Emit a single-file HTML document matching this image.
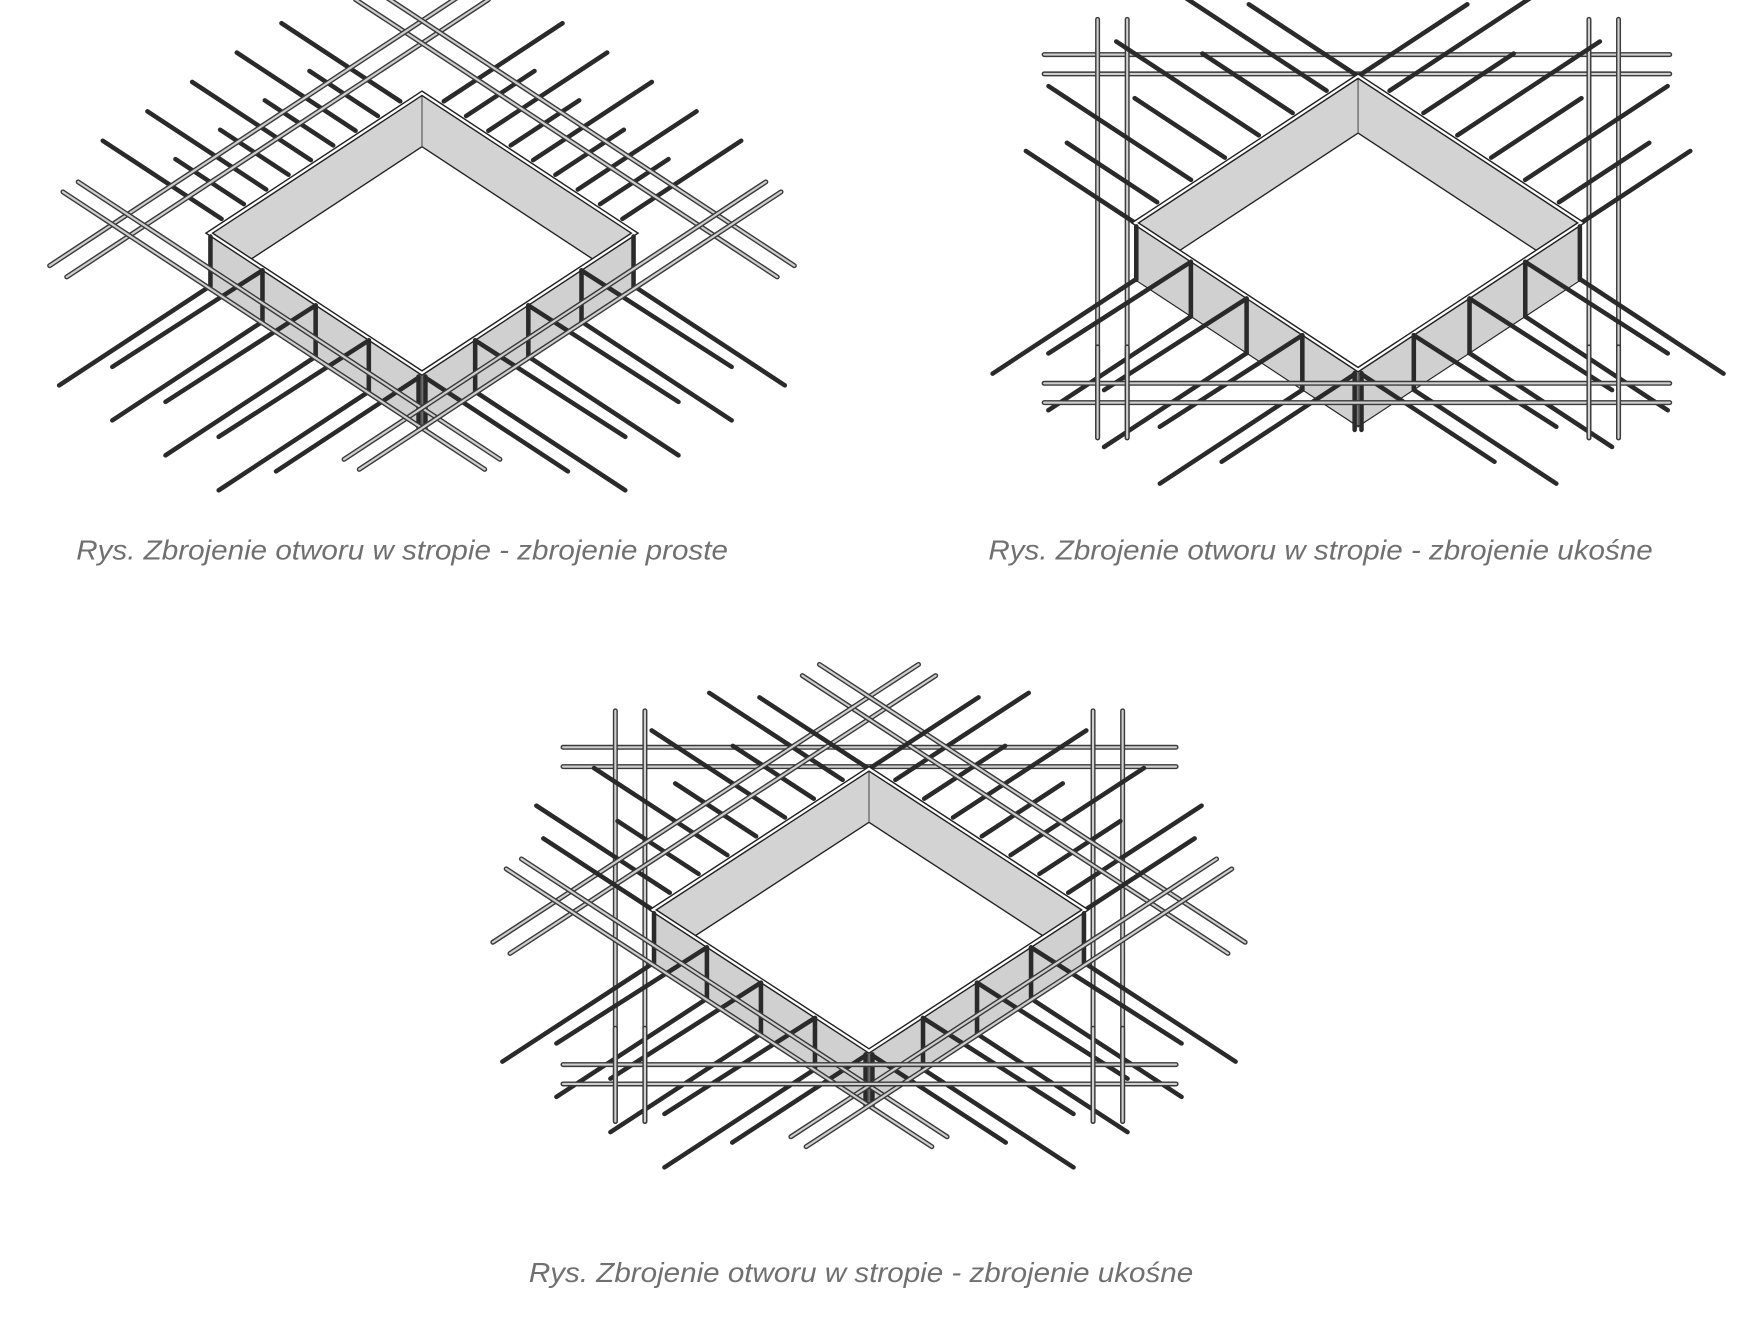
<!DOCTYPE html>
<html><head><meta charset="utf-8">
<style>
html,body{margin:0;padding:0;background:#fff;}
svg{display:block;}
text{font-family:"Liberation Sans",sans-serif;font-style:italic;fill:#707070;font-size:24px;}
</style></head>
<body>
<svg id="s" xmlns="http://www.w3.org/2000/svg" width="1763" height="1322" viewBox="0 0 1550 1162.3">
<rect width="1550" height="1162.3" fill="#fff"/>
<g id="g"></g>
<text x="67" y="492" textLength="573" lengthAdjust="spacingAndGlyphs">Rys. Zbrojenie otworu w stropie - zbrojenie proste</text>
<text x="869" y="492" textLength="584" lengthAdjust="spacingAndGlyphs">Rys. Zbrojenie otworu w stropie - zbrojenie ukośne</text>
<text x="465" y="1127" textLength="584" lengthAdjust="spacingAndGlyphs">Rys. Zbrojenie otworu w stropie - zbrojenie ukośne</text>
</svg>
<script>
var NS="http://www.w3.org/2000/svg";
var G=document.getElementById('g');
function el(n,a){var e=document.createElementNS(NS,n);for(var k in a)e.setAttribute(k,a[k]);G.appendChild(e);return e;}
function dark(x1,y1,x2,y2){el('line',{x1:x1,y1:y1,x2:x2,y2:y2,stroke:'#2a2a2a','stroke-width':4,'stroke-linecap':'round'});}
function light(x1,y1,x2,y2){el('line',{x1:x1,y1:y1,x2:x2,y2:y2,stroke:'#3a3a3a','stroke-width':4.4,'stroke-linecap':'round'});
 el('line',{x1:x1,y1:y1,x2:x2,y2:y2,stroke:'#cfcfcf','stroke-width':1.9,'stroke-linecap':'round'});}
function pts(a){return a.map(function(p){return p[0]+','+p[1];}).join(' ');}
function fig(tx,ty,a,b,d,o){
 var n=Math.sqrt(a*a+b*b), e1=[a/n,b/n], e2=[-a/n,b/n];
 var T=[tx,ty],L=[tx-a,ty+b],R=[tx+a,ty+b],B=[tx,ty+2*b];
 function add(p,v,k){return [p[0]+v[0]*k,p[1]+v[1]*k];}
 function lerp(p,q,s){return [p[0]+(q[0]-p[0])*s,p[1]+(q[1]-p[1])*s];}
 if(o.grid){
  var g=o.grid;
  light(L[0]-g.hx1,T[1]-19,R[0]+g.hx2,T[1]-19);
  light(L[0]-g.hx1,T[1]-2,R[0]+g.hx2,T[1]-2);
  [L[0]-33,L[0]-7,R[0]+7,R[0]+33].forEach(function(x){light(x,T[1]-g.vy1,x,B[1]+g.vy2);});
 }
 var ls=o.back;
 for(var i=0;i<o.nb;i++){
  var s=o.s0+(1-2*o.s0)*i/(o.nb-1);
  var len=ls[i%2];
  var P=lerp(T,L,s); var P0=add(P,e1,-5); var P1=add(P0,e1,-len); dark(P0[0],P0[1],P1[0],P1[1]);
  var Q=lerp(T,R,s); var Q0=add(Q,e2,-5); var Q1=add(Q0,e2,-len); dark(Q0[0],Q0[1],Q1[0],Q1[1]);
 }
 if(o.diag){
  var ex=o.diag.ext;
  o.diag.offs.forEach(function(k){
   var p1=add(add(T,e1,-k),e2,-ex), p2=add(add(L,e1,-k),e2,ex); light(p1[0],p1[1],p2[0],p2[1]);
   var q1=add(add(T,e2,-k),e1,-ex), q2=add(add(R,e2,-k),e1,ex); light(q1[0],q1[1],q2[0],q2[1]);
  });
 }
 if(o.corner){
  var c=o.corner;
  [[T,e1,-1],[T,e2,-1],[L,e1,-1],[R,e2,-1]].forEach(function(z){var q=add(z[0],z[1],z[2]*c);dark(z[0][0],z[0][1],q[0],q[1]);});
 }
 el('polygon',{points:pts([T,R,B,L]),fill:'#d3d3d3',stroke:'none'});
 var sI=d/(2*b); var Il=add(L,[a,b],sI), Ir=add(R,[-a,b],sI), Ti=[tx,ty+d];
 el('polygon',{points:pts([Ti,Il,B,Ir]),fill:'#fff',stroke:'#222','stroke-width':1.2});
 el('line',{x1:tx,y1:ty,x2:tx,y2:ty+d,stroke:'#555','stroke-width':1});
 var Ld=[L[0],L[1]+d],Bd=[B[0],B[1]+d],Rd=[R[0],R[1]+d];
 el('polygon',{points:pts([L,B,Bd,Ld]),fill:'#d0d0d0',stroke:'#222','stroke-width':1});
 el('polygon',{points:pts([B,R,Rd,Bd]),fill:'#d0d0d0',stroke:'#222','stroke-width':1});
 el('polygon',{points:pts([T,R,B,L]),fill:'none',stroke:'#222','stroke-width':4.5,'stroke-linejoin':'miter'});
 el('polygon',{points:pts([T,R,B,L]),fill:'none',stroke:'#fff','stroke-width':2});
 [L,R].forEach(function(p){dark(p[0]+(p==L?1:-1),p[1]+3,p[0]+(p==L?1:-1),p[1]+d);});
 dark(B[0]-3,B[1]+3,B[0]-3,B[1]+d+3);dark(B[0]+3,B[1]+3,B[0]+3,B[1]+d+3);
 var fl=o.front;
 [0.25,0.5,0.75].forEach(function(s){
  var P=lerp(L,B,s); dark(P[0],P[1]+2,P[0],P[1]+d);
  var a1=add(P,e2,fl); dark(P[0],P[1]+2,a1[0],a1[1]);
  var b0=[P[0],P[1]+d], b1=add(b0,e2,fl); dark(b0[0],b0[1],b1[0],b1[1]);
  var Q=lerp(B,R,1-s); dark(Q[0],Q[1]+2,Q[0],Q[1]+d);
  var c1=add(Q,e1,fl); dark(Q[0],Q[1]+2,c1[0],c1[1]);
  var d0=[Q[0],Q[1]+d], d1=add(d0,e1,fl); dark(d0[0],d0[1],d1[0],d1[1]);
 });
 [[L,e2],[R,e1]].forEach(function(z){var p=[z[0][0],z[0][1]+d];var q=add(p,z[1],fl);dark(p[0],p[1],q[0],q[1]);});
 var bl=add([B[0]-3,B[1]+4],e2,o.bcorner), br=add([B[0]+3,B[1]+4],e1,o.bcorner);
 dark(B[0]-3,B[1]+4,bl[0],bl[1]); dark(B[0]+3,B[1]+4,br[0],br[1]);
 if(o.diag){
  var ex2=o.diag.ext;
  o.diag.offs2.forEach(function(k){
   var p1=add(add(L,e2,k),e1,-ex2), p2=add(add(B,e2,k),e1,ex2); light(p1[0],p1[1],p2[0],p2[1]);
   var q1=add(add(R,e1,k),e2,-ex2), q2=add(add(B,e1,k),e2,ex2); light(q1[0],q1[1],q2[0],q2[1]);
  });
 }
 if(o.grid){
  var g2=o.grid;
  light(L[0]-g2.hx1,B[1]+12,R[0]+g2.hx2,B[1]+12);
  light(L[0]-g2.hx1,B[1]+29,R[0]+g2.hx2,B[1]+29);
  [L[0]-33,L[0]-7,R[0]+7,R[0]+33].forEach(function(x){light(x,B[1]-20,x,B[1]+g2.vy2);});
 }
}
fig(371,82,187,123,47,{back:[125,72],nb:9,s0:0.08,front:158,bcorner:150,diag:{offs:[40,58],offs2:[28,44],ext:110}});
fig(1194,67,196,129,50,{back:[150,95],nb:6,s0:0.12,front:150,bcorner:140,corner:115,grid:{hx1:80,hx2:78,vy1:50,vy2:60}});
fig(764,676,190,124,47,{back:[140,85],nb:7,s0:0.1,front:158,bcorner:140,corner:115,diag:{offs:[40,58],offs2:[28,44],ext:110},grid:{hx1:79,hx2:80,vy1:51,vy2:62}});
</script>
</body></html>
